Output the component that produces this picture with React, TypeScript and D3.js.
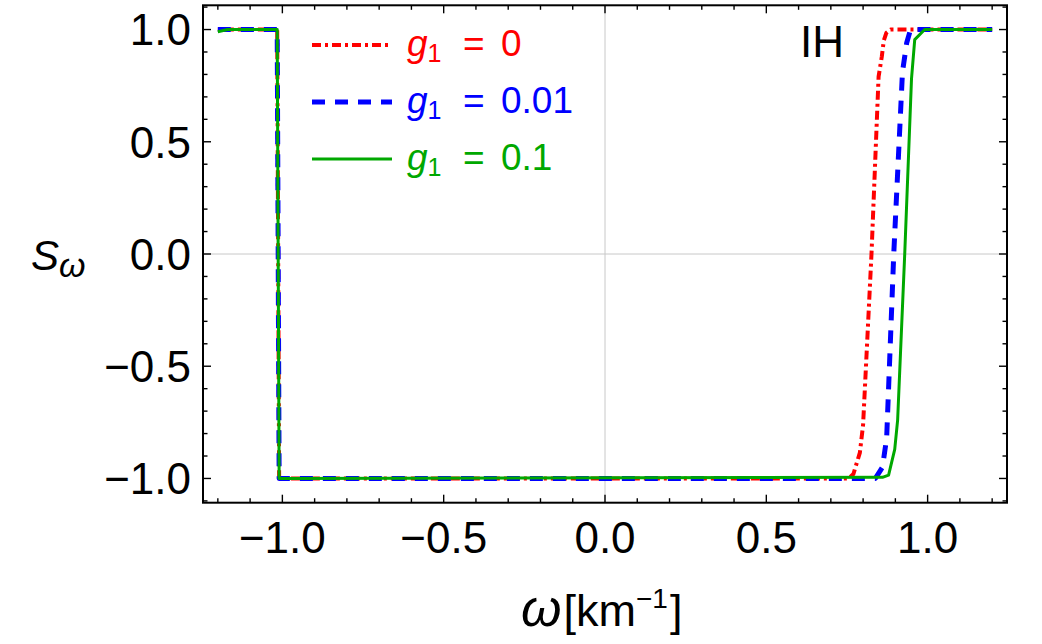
import React from "react";
import * as d3 from "d3";

// S_omega curves for three couplings (IH)
const omegaG0 = [-1.2, -1.016, -1.01, 0.755, 0.77, 0.79, 0.8, 0.826, 0.848, 0.858, 0.864, 0.872, 0.885, 1.2];
const sG0 = [1, 1, -1, -1, -0.98, -0.885, -0.76, 0.0, 0.79, 0.88, 0.95, 0.985, 1, 1];

const omegaG001 = [-1.2, -1.016, -1.01, 0.838, 0.86, 0.873, 0.895, 0.922, 0.935, 0.947, 1.2];
const sG001 = [1, 1, -1, -1, -0.95, -0.82, 0.0, 0.81, 0.94, 1, 1];

const omegaG01 = [-1.2, -1.17, -1.016, -1.01, 0.86, 0.879, 0.898, 0.907, 0.929, 0.95, 0.96, 0.991, 1.2];
const sG01 = [0.99, 1, 1, -1, -0.995, -0.985, -0.87, -0.74, 0.0, 0.78, 0.955, 1, 1];

const seriesNames = ["0", "0.01", "0.1"];
const seriesColors = ["#ff0000", "#0000ff", "#00a800"];

const xMajor = [-1.0, -0.5, 0.0, 0.5, 1.0];
const xMajorLabels = ["\u22121.0", "\u22120.5", "0.0", "0.5", "1.0"];
const yMajor = [-1.0, -0.5, 0.0, 0.5, 1.0];
const yMajorLabels = ["\u22121.0", "\u22120.5", "0.0", "0.5", "1.0"];

const W = 1042;
const H = 644;
const left = 203;
const right = 1007;
const top = 5.3;
const bottom = 502.7;
const font = "'Liberation Sans', Arial, Helvetica, sans-serif";

export default function App() {
  const x = d3.scaleLinear().domain([-1.246, 1.246]).range([left, right]);
  const y = d3.scaleLinear().domain([-1.108, 1.108]).range([bottom, top]);

  const series = [
    { w: omegaG0, s: sG0, width: 4, dash: "9 4 3 4" },
    { w: omegaG001, s: sG001, width: 5, dash: "13 10" },
    { w: omegaG01, s: sG01, width: 3, dash: null },
  ];

  const line = d3
    .line<[number, number]>()
    .x((d) => x(d[0]))
    .y((d) => y(d[1]));

  const xMinor = d3.range(-12, 13).map((i) => i / 10).filter((v) => Math.abs(v * 2 - Math.round(v * 2)) > 1e-6);
  const yMinor = d3.range(-11, 12).map((i) => i / 10).filter((v) => Math.abs(v * 2 - Math.round(v * 2)) > 1e-6);

  const major = 8;
  const minor = 4.5;

  return (
    <svg width={W} height={H} style={{ position: "absolute", left: 0, top: 0, background: "#fff" }} fontFamily={font}>
      <defs>
        <clipPath id="plot">
          <rect x={left} y={top} width={right - left} height={bottom - top} />
        </clipPath>
      </defs>

      {/* grid lines through the origin */}
      <line x1={x(0)} x2={x(0)} y1={top} y2={bottom} stroke="#c8c8c8" strokeWidth={1} />
      <line x1={left} x2={right} y1={y(0)} y2={y(0)} stroke="#c8c8c8" strokeWidth={1} />

      <g clipPath="url(#plot)">
        {series.map((d, i) => (
          <path
            key={i}
            d={line(d.w.map((v, j) => [v, d.s[j]] as [number, number])) || ""}
            fill="none"
            stroke={seriesColors[i]}
            strokeWidth={d.width}
            strokeDasharray={d.dash || undefined}
            strokeLinejoin="round"
          />
        ))}
      </g>

      {/* frame ticks */}
      <g stroke="#000" strokeWidth={1.4}>
        {xMajor.map((v) => (
          <g key={"xm" + v}>
            <line x1={x(v)} x2={x(v)} y1={bottom} y2={bottom - major} />
            <line x1={x(v)} x2={x(v)} y1={top} y2={top + major} />
          </g>
        ))}
        {xMinor.map((v) => (
          <g key={"xn" + v}>
            <line x1={x(v)} x2={x(v)} y1={bottom} y2={bottom - minor} />
            <line x1={x(v)} x2={x(v)} y1={top} y2={top + minor} />
          </g>
        ))}
        {yMajor.map((v) => (
          <g key={"ym" + v}>
            <line x1={left} x2={left + major} y1={y(v)} y2={y(v)} />
            <line x1={right} x2={right - major} y1={y(v)} y2={y(v)} />
          </g>
        ))}
        {yMinor.map((v) => (
          <g key={"yn" + v}>
            <line x1={left} x2={left + minor} y1={y(v)} y2={y(v)} />
            <line x1={right} x2={right - minor} y1={y(v)} y2={y(v)} />
          </g>
        ))}
      </g>
      <rect x={left} y={top} width={right - left} height={bottom - top} fill="none" stroke="#000" strokeWidth={2} />

      {/* tick labels */}
      <g fontSize={44} fill="#000">
        {xMajor.map((v, i) => (
          <text key={"xl" + v} x={x(v)} y={553} textAnchor="middle">
            {xMajorLabels[i]}
          </text>
        ))}
        {yMajor.map((v, i) => (
          <text key={"yl" + v} x={191} y={y(v) + 15.8} textAnchor="end">
            {yMajorLabels[i]}
          </text>
        ))}
      </g>

      {/* axis labels */}
      <text x={31} y={270} fontSize={42} fill="#000">
        <tspan fontStyle="italic">S</tspan>
        <tspan fontStyle="italic" fontSize={34} dy={7}>ω</tspan>
      </text>
      <text x={521} y={626} fontSize={45} fill="#000">
        <tspan fontStyle="italic" fontSize={52}>ω</tspan>
        <tspan dx={2}>[km</tspan>
        <tspan fontSize={28} dy={-18}>{"\u22121"}</tspan>
        <tspan dy={18} dx={2}>]</tspan>
      </text>

      {/* panel tag */}
      <text x={800} y={57} fontSize={44} fill="#000">IH</text>

      {/* legend */}
      {seriesNames.map((name, i) => {
        const base = 56 + i * 57;
        const d = series[i];
        return (
          <g key={"lg" + i}>
            <line
              x1={312}
              x2={392}
              y1={base - 11}
              y2={base - 11}
              stroke={seriesColors[i]}
              strokeWidth={d.width}
              strokeDasharray={d.dash || undefined}
            />
            <text x={407} y={base} fontSize={37} fill={seriesColors[i]}>
              <tspan fontStyle="italic">g</tspan>
              <tspan fontSize={25} dy={6}>1</tspan>
            </text>
            <text x={463} y={base} fontSize={37} fill={seriesColors[i]}>=</text>
            <text x={501} y={base} fontSize={37} fill={seriesColors[i]}>{name}</text>
          </g>
        );
      })}
    </svg>
  );
}
